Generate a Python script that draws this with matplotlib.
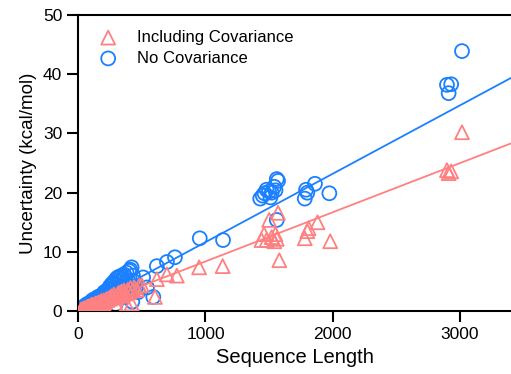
import matplotlib
matplotlib.use("Agg")
import matplotlib.pyplot as plt
import numpy as np

plt.rcParams['font.family'] = ['Liberation Sans', 'DejaVu Sans']

# No Covariance (blue circles)
nocov_x = [15, 25, 30, 40, 45, 50, 60, 65, 70, 80, 85, 90, 100, 105, 110, 120, 125, 130,
           140, 150, 155, 160, 170, 180, 190, 200, 205, 210, 220, 230, 240, 245, 250, 260,
           265, 270, 280, 285, 290, 295, 300, 305, 310, 320, 325, 330, 340, 345, 350, 360,
           365, 370, 380, 385, 390, 400, 410, 415, 420, 425, 430, 440, 450, 470,
           180, 230, 260, 330, 360, 400,
           510, 540, 590, 618, 697, 760, 955, 1138,
           1430, 1450, 1464, 1480, 1500, 1510, 1520, 1540, 1550, 1560, 1570, 1560,
           1780, 1790, 1800, 1860, 1973,
           2897, 2910, 2930, 3015]
nocov_y = [0.2, 0.4, 0.6, 0.5, 0.8, 0.7, 1.0, 0.6, 1.2, 1.1, 0.9, 1.4, 1.5, 1.2, 1.8, 1.6, 2.0, 1.3,
           2.1, 1.9, 2.4, 1.0, 2.5, 2.2, 2.8, 2.6, 3.2, 2.0, 3.4, 3.0, 3.8, 2.7, 4.2, 3.6,
           4.6, 3.2, 4.8, 4.0, 5.2, 1.2, 4.5, 5.6, 3.8, 5.8, 5.0, 4.3, 6.0, 5.4, 3.5, 6.2,
           4.8, 5.8, 6.5, 3.0, 5.2, 6.8, 7.0, 4.2, 7.4, 1.6, 6.0, 5.0, 3.8, 3.2,
           1.5, 1.8, 2.2, 2.6, 2.4, 3.0,
           5.7, 4.0, 2.4, 7.6, 8.3, 9.1, 12.3, 12.0,
           19.0, 19.5, 19.9, 20.5, 20.2, 19.2, 20.0, 21.0, 20.4, 22.3, 22.0, 15.4,
           19.0, 20.5, 20.0, 21.5, 19.9,
           38.2, 36.8, 38.3, 43.9]

# Including Covariance (red triangles)
cov_x = [20, 30, 40, 50, 60, 70, 80, 90, 100, 110, 120, 130, 140, 150, 160, 170, 180, 190,
         200, 210, 220, 230, 240, 250, 260, 270, 280, 290, 300, 310, 320, 330, 340, 350,
         360, 370, 380, 390, 400, 410, 420, 430, 440, 460, 480, 500,
         603, 618, 697, 775, 950, 1135,
         1440, 1460, 1480, 1500, 1520, 1540, 1550, 1560, 1570, 1580,
         1780, 1800, 1810, 1880, 1980,
         2897, 2910, 2930, 3015]
cov_y = [0.2, 0.3, 0.4, 0.5, 0.5, 0.7, 0.8, 0.7, 1.0, 1.1, 0.8, 1.2, 1.3, 1.1, 1.5, 1.4, 1.7, 1.3,
         1.8, 1.6, 2.0, 1.9, 2.2, 2.1, 2.5, 2.3, 2.8, 2.4, 1.0, 2.9, 3.1, 2.6, 3.3, 2.9,
         3.5, 3.0, 1.2, 3.6, 3.2, 3.9, 1.3, 3.5, 4.0, 3.6, 4.3, 4.4,
         2.4, 5.4, 6.2, 6.0, 7.4, 7.6,
         12.0, 13.0, 12.0, 15.4, 12.5, 11.8, 13.0, 12.2, 16.6, 8.6,
         12.3, 13.5, 14.0, 15.0, 11.8,
         23.8, 23.3, 23.6, 30.2]

# linear fit lines (slope, intercept)
nocov_fit = (0.01155, 0.1)
cov_fit = (0.0083, 0.1)

blue = '#1a80ff'
red = '#ff8080'

fig = plt.figure(figsize=(5.11, 3.74), dpi=100)
ax = fig.add_axes([0.153, 0.168, 0.847, 0.792])

fit_x = np.array([0, 3600])
ax.scatter(nocov_x, nocov_y, s=100, facecolors='none', edgecolors=blue,
           linewidths=1.3, marker='o', label='No Covariance', zorder=2)
ax.plot(fit_x, nocov_fit[0] * fit_x + nocov_fit[1], color=blue, lw=1.3, zorder=3)
ax.scatter(cov_x, cov_y, s=100, facecolors='none', edgecolors=red,
           linewidths=1.3, marker='^', label='Including Covariance', zorder=4)
ax.plot(fit_x, cov_fit[0] * fit_x + cov_fit[1], color=red, lw=1.3, zorder=5)

ax.set_xlim(0, 3400)
ax.set_ylim(0, 50)
ax.set_xticks([0, 1000, 2000, 3000])
ax.set_yticks([0, 10, 20, 30, 40, 50])
ax.set_xlabel('Sequence Length', fontsize=14.5)
ax.set_ylabel('Uncertainty (kcal/mol)', fontsize=13.5)

ax.spines['right'].set_visible(False)
for s in ['left', 'bottom', 'top']:
    ax.spines[s].set_linewidth(1.5)
ax.tick_params(direction='out', length=8, width=1.5, labelsize=12.5, top=False, right=False)

handles, labels = ax.get_legend_handles_labels()
ax.legend(handles[::-1], labels[::-1], loc='upper left', frameon=False, fontsize=12,
          handletextpad=0.8, handlelength=1.8, borderaxespad=0.5, labelspacing=0.35)

fig.savefig('out.png', dpi=100)
